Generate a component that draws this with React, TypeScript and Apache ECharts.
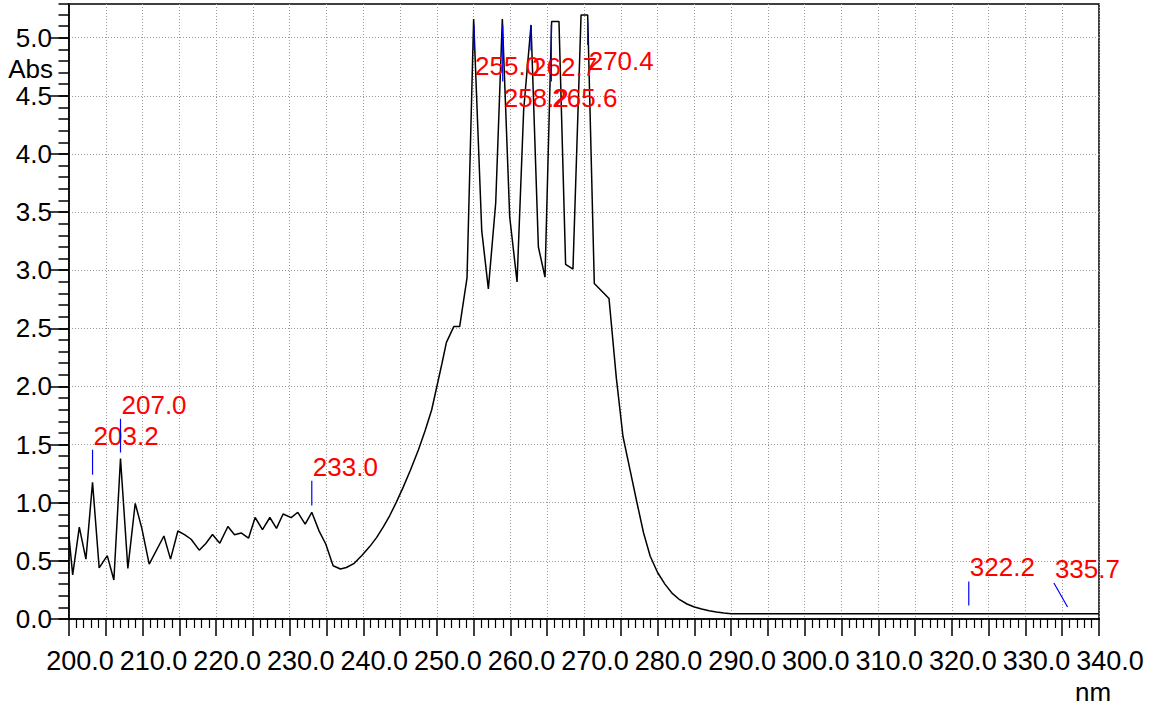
import React, { useEffect, useRef } from "react";
import * as echarts from "echarts";

// Spectrum: wavelength (nm) and absorbance (Abs)
const wavelength = [
  200.0, 200.5, 201.4, 202.3, 203.2, 204.1, 205.2, 206.1, 207.0, 208.0,
  209.0, 209.9, 210.9, 212.9, 213.8, 214.8, 215.7, 216.6, 217.7, 218.6,
  219.5, 220.5, 221.6, 222.5, 223.4, 224.4, 225.3, 226.3, 227.3, 228.2,
  229.1, 230.2, 231.1, 232.1, 233.0, 234.0, 234.9, 235.9, 236.9, 237.7,
  238.7, 239.8, 240.9, 241.8, 242.7, 243.6, 244.5, 245.4, 246.4, 247.5,
  248.4, 249.3, 250.0, 250.7, 251.3, 252.3, 253.1, 254.1, 255.0, 256.1,
  257.0, 258.0, 258.9, 259.9, 260.9, 261.8, 262.8, 263.8, 264.7, 265.6,
  266.6, 267.5, 268.5, 269.6, 270.5, 271.4, 273.4, 274.4, 275.3, 276.3,
  277.2, 278.1, 279.0, 280.0, 281.0, 282.0, 283.0, 284.0, 285.0, 286.0,
  287.0, 288.0, 289.0, 290.0, 300.0, 310.0, 320.0, 330.0, 340.0,
];
const absorbance = [
  0.71, 0.38, 0.79, 0.515, 1.175, 0.44, 0.545, 0.335, 1.38, 0.435,
  0.995, 0.78, 0.472, 0.714, 0.515, 0.757, 0.725, 0.686, 0.592, 0.65,
  0.727, 0.652, 0.796, 0.725, 0.74, 0.695, 0.873, 0.768, 0.873, 0.78,
  0.903, 0.872, 0.918, 0.816, 0.918, 0.756, 0.645, 0.458, 0.43, 0.443,
  0.476, 0.546, 0.625, 0.70, 0.79, 0.89, 1.005, 1.13, 1.28, 1.455,
  1.62, 1.80, 2.00, 2.20, 2.38, 2.515, 2.515, 2.935, 5.16, 3.34,
  2.84, 3.58, 5.16, 3.46, 2.90, 4.38, 5.11, 3.20, 2.94, 5.14,
  5.14, 3.05, 3.01, 5.195, 5.195, 2.886, 2.757, 2.07, 1.57, 1.27,
  1.0, 0.74, 0.54, 0.40, 0.30, 0.22, 0.166, 0.129, 0.103, 0.086,
  0.071, 0.06, 0.052, 0.045, 0.045, 0.045, 0.045, 0.045, 0.045,
];

// Peak markers (blue ticks) with their red labels
const markerLabels = ["203.2", "207.0", "233.0", "255.0", "258.2", "262.7", "265.6", "270.4", "322.2", "335.7"];
const markerX1 = [203.2, 207.0, 233.0, 255.05, 258.95, 262.8, 265.56, 270.5, 322.3, 335.73];
const markerY1 = [1.241, 1.432, 0.977, 4.895, 4.623, 4.889, 4.623, 4.938, 0.117, 0.103];
const markerX2 = [203.2, 207.0, 233.0, 255.05, 258.95, 262.8, 265.56, 270.5, 322.3, 333.87];
const markerY2 = [1.456, 1.722, 1.189, 5.11, 5.11, 5.11, 5.11, 5.138, 0.323, 0.31];
const markerBelow = [0, 0, 0, 1, 1, 1, 1, 1, 0, 0];

// Axis ticks
const yMajorTicks = [0, 0.5, 1.0, 1.5, 2.0, 2.5, 3.0, 3.5, 4.0, 4.5, 5.0];

const FONT = '"Liberation Sans", Arial, Helvetica, sans-serif';

export default function App() {
  const ref = useRef<HTMLDivElement>(null);

  useEffect(() => {
    if (!ref.current) return;
    const chart = echarts.init(ref.current, null, { renderer: "svg" });

    const lineData = wavelength.map((w, i) => [w, absorbance[i]]);
    const markerData = markerLabels.map((_, i) => [
      markerX1[i], markerY1[i], markerX2[i], markerY2[i], markerBelow[i],
    ]);

    const gridLine = { show: true, lineStyle: { color: "#999", width: 1, type: [1, 2] as any } };

    chart.setOption({
      animation: false,
      backgroundColor: "#ffffff",
      textStyle: { fontFamily: FONT },
      grid: {
        left: 69, right: 73, top: 4, bottom: 92,
        show: true, borderColor: "#000", borderWidth: 1.5, backgroundColor: "transparent",
      },
      xAxis: {
        type: "value",
        min: 200, max: 340, interval: 5,
        axisLine: { show: true, onZero: false, lineStyle: { color: "#000", width: 1.5 } },
        axisTick: { show: true, length: 17, lineStyle: { color: "#000", width: 1.5 } },
        minorTick: { show: true, splitNumber: 5, length: 9, lineStyle: { color: "#000", width: 1.2 } },
        axisLabel: {
          color: "#000", fontSize: 27, fontFamily: FONT, margin: 28,
          padding: [0, 0, 0, 22],
          formatter: (v: number) => (Math.round(v) % 10 === 0 ? v.toFixed(1) : ""),
        },
        splitLine: gridLine,
      },
      yAxis: [
        {
          type: "value",
          min: 0, max: 5.29, interval: 0.5,
          axisLine: { show: true, onZero: false, lineStyle: { color: "#000", width: 1.5 } },
          axisTick: { show: true, length: 19, customValues: yMajorTicks, lineStyle: { color: "#000", width: 1.5 } },
          axisLabel: {
            color: "#000", fontSize: 26, fontFamily: FONT, margin: 17,
            padding: [4, 0, 0, 0],
            customValues: yMajorTicks,
            formatter: (v: number) => v.toFixed(1),
          },
          splitLine: gridLine,
        },
        {
          type: "value",
          position: "left",
          min: 0, max: 5.29, interval: 0.1,
          axisLine: { show: false },
          axisTick: { show: true, length: 10.5, lineStyle: { color: "#000", width: 1.5 } },
          axisLabel: { show: false },
          splitLine: { show: false },
        },
      ],
      graphic: [
        {
          type: "text", x: 53, y: 56, z: 10,
          style: { text: "Abs", fill: "#000", fontSize: 26, fontFamily: FONT, align: "right", verticalAlign: "top" },
        },
        {
          type: "text", x: 1075, y: 679, z: 10,
          style: { text: "nm", fill: "#000", fontSize: 26, fontFamily: FONT, align: "left", verticalAlign: "top" },
        },
      ],
      series: [
        {
          type: "line",
          data: lineData,
          showSymbol: false,
          symbol: "none",
          lineStyle: { color: "#000", width: 1.5 },
          z: 3,
          clip: true,
        },
        {
          type: "custom",
          data: markerData,
          encode: { x: [0, 2], y: [1, 3] },
          clip: false,
          z: 5,
          renderItem: (params: any, api: any) => {
            const i = params.dataIndex;
            const p1 = api.coord([api.value(0), api.value(1)]);
            const p2 = api.coord([api.value(2), api.value(3)]);
            const below = api.value(4) === 1;
            const tx = Math.min(p1[0], p2[0]) + 1;
            const ty = below ? Math.max(p1[1], p2[1]) + 3 : Math.min(p1[1], p2[1]) - 1;
            return {
              type: "group",
              children: [
                {
                  type: "line",
                  shape: { x1: p1[0], y1: p1[1], x2: p2[0], y2: p2[1] },
                  style: { stroke: "#0000ff", lineWidth: 1.2 },
                },
                {
                  type: "text",
                  x: tx,
                  y: ty,
                  style: {
                    text: markerLabels[i],
                    fill: "#ff0000",
                    fontSize: 26,
                    fontFamily: FONT,
                    align: "left",
                    verticalAlign: below ? "top" : "bottom",
                  },
                },
              ],
            };
          },
        },
      ],
    });

    return () => chart.dispose();
  }, []);

  return (
    <div
      ref={ref}
      style={{ position: "absolute", left: 0, top: 0, width: 1172, height: 711, background: "#fff" }}
    />
  );
}
